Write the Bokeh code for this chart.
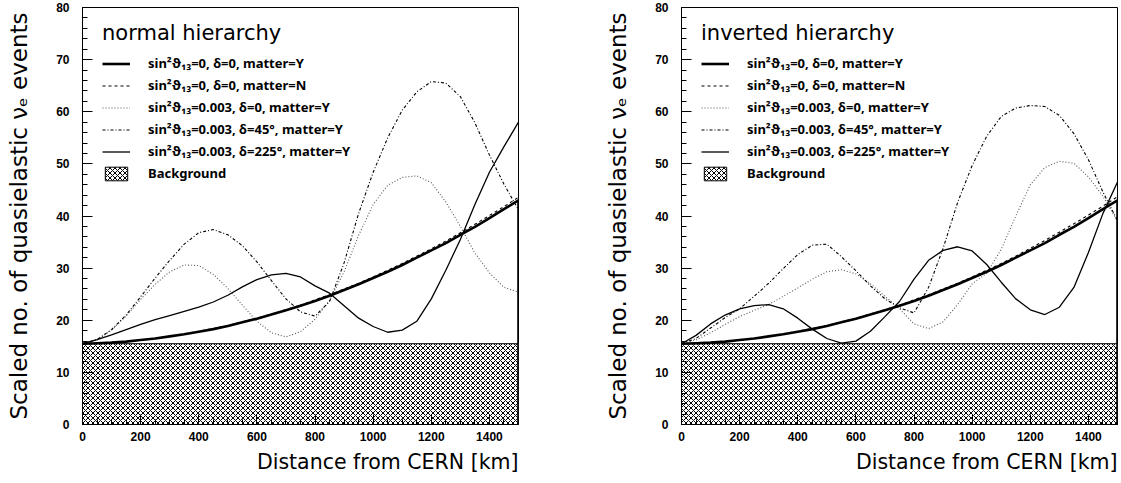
from bokeh.plotting import figure
from bokeh.layouts import row
from bokeh.models import Range1d, SingleIntervalTicker, Legend, LegendItem, Title
from bokeh.embed import file_html
from bokeh.resources import INLINE

# ---------------- data ----------------
distance_km = [0, 50, 100, 150, 200, 250, 300, 350, 400, 450, 500, 550, 600, 650, 700,
               750, 800, 850, 900, 950, 1000, 1050, 1100, 1150, 1200, 1250, 1300, 1350,
               1400, 1450, 1500]

background_events = [15.5]

series_labels = [
    "sin²ϑ₁₃=0, δ=0, matter=Y",
    "sin²ϑ₁₃=0, δ=0, matter=N",
    "sin²ϑ₁₃=0.003, δ=0, matter=Y",
    "sin²ϑ₁₃=0.003, δ=45°, matter=Y",
    "sin²ϑ₁₃=0.003, δ=225°, matter=Y",
    "Background",
]

# normal hierarchy
nh_s0_matter = [15.5, 15.6, 15.7, 15.9, 16.2, 16.5, 16.9, 17.3, 17.8, 18.3, 18.9, 19.6, 20.3,
                21.1, 21.9, 22.8, 23.7, 24.7, 25.8, 26.9, 28.1, 29.3, 30.6, 32.0, 33.4, 34.8,
                36.4, 37.9, 39.6, 41.3, 43.0]
nh_s0_vacuum = [15.5, 15.6, 15.7, 15.9, 16.2, 16.5, 16.9, 17.4, 17.9, 18.4, 19.0, 19.7, 20.4,
                21.2, 22.0, 22.9, 23.9, 24.9, 26.0, 27.1, 28.3, 29.6, 30.9, 32.3, 33.7, 35.2,
                36.8, 38.4, 40.1, 41.8, 43.6]
nh_d0 = [15.5, 16.2, 18.1, 20.8, 24.0, 26.9, 29.3, 30.6, 30.5, 28.8, 26.1, 22.9, 19.8, 17.6,
         16.8, 17.8, 20.2, 23.8, 29.3, 36.3, 42.2, 45.9, 47.4, 47.7, 46.4, 42.7, 38.0, 32.9,
         29.1, 26.3, 25.4]
nh_d45 = [15.5, 16.3, 18.2, 21.0, 24.5, 28.1, 31.5, 34.6, 36.8, 37.4, 36.4, 34.3, 31.2, 27.6,
          24.1, 21.6, 20.8, 23.6, 31.0, 40.5, 48.4, 55.0, 60.3, 63.8, 65.8, 65.5, 62.9, 57.9,
          51.7, 46.1, 41.2]
nh_d225 = [15.5, 16.3, 17.2, 18.2, 19.2, 20.1, 20.9, 21.7, 22.5, 23.5, 24.8, 26.4, 27.8, 28.7,
           29.0, 28.3, 26.6, 25.2, 22.8, 20.4, 18.8, 17.7, 18.1, 19.8, 24.1, 29.6, 35.5, 42.2,
           48.4, 53.3, 58.0]

# inverted hierarchy
ih_s0_matter = [15.5, 15.6, 15.7, 15.9, 16.2, 16.5, 16.9, 17.3, 17.8, 18.3, 18.9, 19.6, 20.3,
                21.1, 21.9, 22.8, 23.7, 24.7, 25.8, 26.9, 28.1, 29.3, 30.6, 32.0, 33.4, 34.8,
                36.4, 37.9, 39.6, 41.3, 43.0]
ih_s0_vacuum = [15.5, 15.6, 15.7, 15.9, 16.2, 16.5, 16.9, 17.4, 17.9, 18.4, 19.0, 19.7, 20.4,
                21.2, 22.0, 22.9, 23.9, 24.9, 26.0, 27.1, 28.3, 29.6, 30.9, 32.3, 33.8, 35.3,
                36.9, 38.5, 40.2, 41.9, 43.7]
ih_d0 = [15.5, 16.2, 17.6, 19.2, 20.7, 21.9, 23.0, 24.6, 26.2, 27.9, 29.3, 29.7, 28.9, 27.0,
         24.6, 22.2, 19.3, 18.4, 19.7, 23.0, 27.0, 29.0, 33.6, 40.0, 46.0, 49.3, 50.5, 50.1,
         47.5, 43.8, 39.0]
ih_d45 = [15.5, 16.5, 18.5, 20.5, 22.2, 24.6, 27.1, 29.9, 32.6, 34.4, 34.6, 32.2, 29.5, 26.6,
          24.1, 22.4, 21.4, 26.3, 33.8, 42.6, 49.7, 55.3, 59.1, 60.7, 61.2, 61.0, 59.3, 55.8,
          50.8, 44.6, 39.1]
ih_d225 = [15.5, 17.1, 19.3, 21.0, 22.2, 22.8, 23.0, 22.2, 20.4, 18.3, 16.5, 15.6, 16.0, 17.9,
           20.7, 23.6, 27.9, 31.5, 33.4, 34.1, 33.3, 30.7, 27.3, 24.1, 22.0, 21.1, 22.5, 26.3,
           33.0, 40.5, 46.5]

TICK_FONT = "Liberation Sans"
TITLE_FONT = "DejaVu Sans"
LEGEND_FONT = "Noto Sans"


def make_panel(title, s0m, s0v, d0, d45, d225, width, border_left, border_right):
    p = figure(width=width, height=483, output_backend="svg", toolbar_location=None,
               x_range=Range1d(0, 1500), y_range=Range1d(0, 80),
               min_border_left=border_left, min_border_right=border_right,
               min_border_top=7, min_border_bottom=59)
    p.grid.visible = False
    p.background_fill_color = "white"
    p.border_fill_color = "white"
    p.outline_line_color = "black"
    p.outline_line_width = 1

    bg = p.quad(left=[distance_km[0]], right=[distance_km[-1]], bottom=[0],
                top=background_events, fill_color="white", line_color="black",
                line_width=1, hatch_pattern="x", hatch_color="black",
                hatch_scale=5, hatch_weight=1.0)

    r_vac = p.line(distance_km, s0v, line_color="black", line_width=1.1, line_dash="3 3")
    r_d0 = p.line(distance_km, d0, line_color="#555555", line_width=1.1, line_dash="1 2")
    r_d45 = p.line(distance_km, d45, line_color="black", line_width=1.1, line_dash="3 2 1 2")
    r_d225 = p.line(distance_km, d225, line_color="black", line_width=1.3)
    r_mat = p.line(distance_km, s0m, line_color="black", line_width=2.6)
    p.segment(x0=[distance_km[-1]], y0=[0], x1=[distance_km[-1]], y1=[s0m[-1]],
              line_color="black", line_width=2.6)

    items = [
        LegendItem(label=series_labels[0], renderers=[r_mat]),
        LegendItem(label=series_labels[1], renderers=[r_vac]),
        LegendItem(label=series_labels[2], renderers=[r_d0]),
        LegendItem(label=series_labels[3], renderers=[r_d45]),
        LegendItem(label=series_labels[4], renderers=[r_d225]),
        LegendItem(label=series_labels[5], renderers=[bg]),
    ]
    legend = Legend(items=items, location=(20, 242), title=title,
                    title_text_font=TITLE_FONT, title_text_font_size="21px",
                    title_text_font_style="normal", title_text_color="black",
                    title_standoff=9,
                    label_text_font=LEGEND_FONT, label_text_font_size="13px",
                    label_text_font_style="bold", label_text_color="black",
                    glyph_width=28, glyph_height=17, label_height=17,
                    spacing=4, label_standoff=18, padding=0, margin=0,
                    background_fill_alpha=0, border_line_color=None)
    p.add_layout(legend)

    p.xaxis.ticker = SingleIntervalTicker(interval=200, num_minor_ticks=4)
    p.yaxis.ticker = SingleIntervalTicker(interval=10, num_minor_ticks=5)
    for ax in p.axis:
        ax.major_tick_in = 10
        ax.major_tick_out = 0
        ax.minor_tick_in = 5
        ax.minor_tick_out = 0
        ax.axis_line_color = "black"
        ax.major_tick_line_color = "black"
        ax.minor_tick_line_color = "black"
        ax.major_label_text_font = TICK_FONT
        ax.major_label_text_font_style = "bold"
        ax.major_label_text_font_size = "12px"
        ax.major_label_text_color = "black"
    p.yaxis.major_label_standoff = 13
    p.xaxis.major_label_standoff = 7

    p.yaxis.axis_label = "Scaled no. of quasielastic νₑ events"
    p.yaxis.axis_label_text_font = TITLE_FONT
    p.yaxis.axis_label_text_font_size = "23px"
    p.yaxis.axis_label_text_font_style = "normal"
    p.yaxis.axis_label_text_color = "black"
    p.yaxis.axis_label_standoff = 21

    p.add_layout(Title(text="Distance from CERN [km]", align="right",
                       text_font=TITLE_FONT, text_font_size="20.5px",
                       text_font_style="normal", text_color="black",
                       standoff=8), "below")
    return p


p_left = make_panel("normal hierarchy", nh_s0_matter, nh_s0_vacuum, nh_d0, nh_d45, nh_d225,
                    598, 82, 80)
p_right = make_panel("inverted hierarchy", ih_s0_matter, ih_s0_vacuum, ih_d0, ih_d45, ih_d225,
                     523, 83, 4)

layout = row(p_left, p_right)
open("out.html", "w").write(file_html(layout, INLINE))
